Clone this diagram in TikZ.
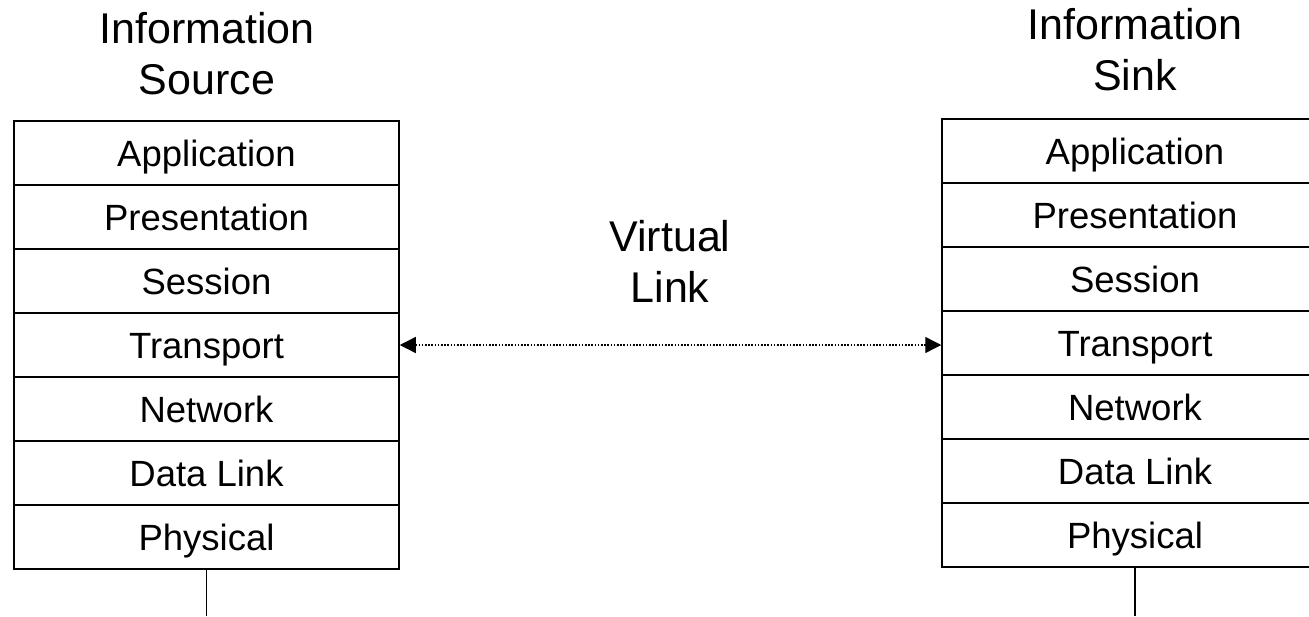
\documentclass[tikz,border=0pt]{standalone}
\usepackage{fontspec}
\setmainfont{Liberation Sans}
\usetikzlibrary{arrows.meta}
\tikzset{
  layer/.style={draw, line width=1.5pt, minimum width=385pt, minimum height=64pt,
    inner sep=0pt, text height=26pt, text depth=0pt, font=\fontsize{36.5}{40}\selectfont},
  title/.style={align=center, inner sep=0pt, font=\fontsize{43}{51}\selectfont},
  link/.style={line width=1.3pt, dash pattern=on 1.6pt off 1.6pt,
    {Triangle[length=16pt,width=16pt]}-{Triangle[length=16pt,width=16pt]}},
  stem/.style={line width=1.3pt}
}
\begin{document}
\begin{tikzpicture}[x=1pt,y=-1pt]
\useasboundingbox (0,0) rectangle (1309,616);
\clip (0,0) rectangle (1309,616);
\foreach \t [count=\i] in {Application,Presentation,Session,Transport,Network,Data Link,Physical} {
  \node[layer] (l\i) at (206.5,{153+64*(\i-1)}) {\t};
  \node[layer, minimum width=386pt] (r\i) at (1135,{151+64*(\i-1)}) {\t};
}
\node[title] (src) at (207,53.3) {Information\\Source};
\node[title] (snk) at (1135,49.3) {Information\\Sink};
\node[title] (vl) at (670,261.6) {Virtual\\Link};
\draw[link] (l4.east) -- (l4.east -| r4.west);
\coordinate (lb) at (206.5,616);
\coordinate (rb) at (1135,616);
\draw[stem] (l7.south) -- (lb);
\draw[stem] (r7.south) -- (rb);
\end{tikzpicture}
\end{document}
